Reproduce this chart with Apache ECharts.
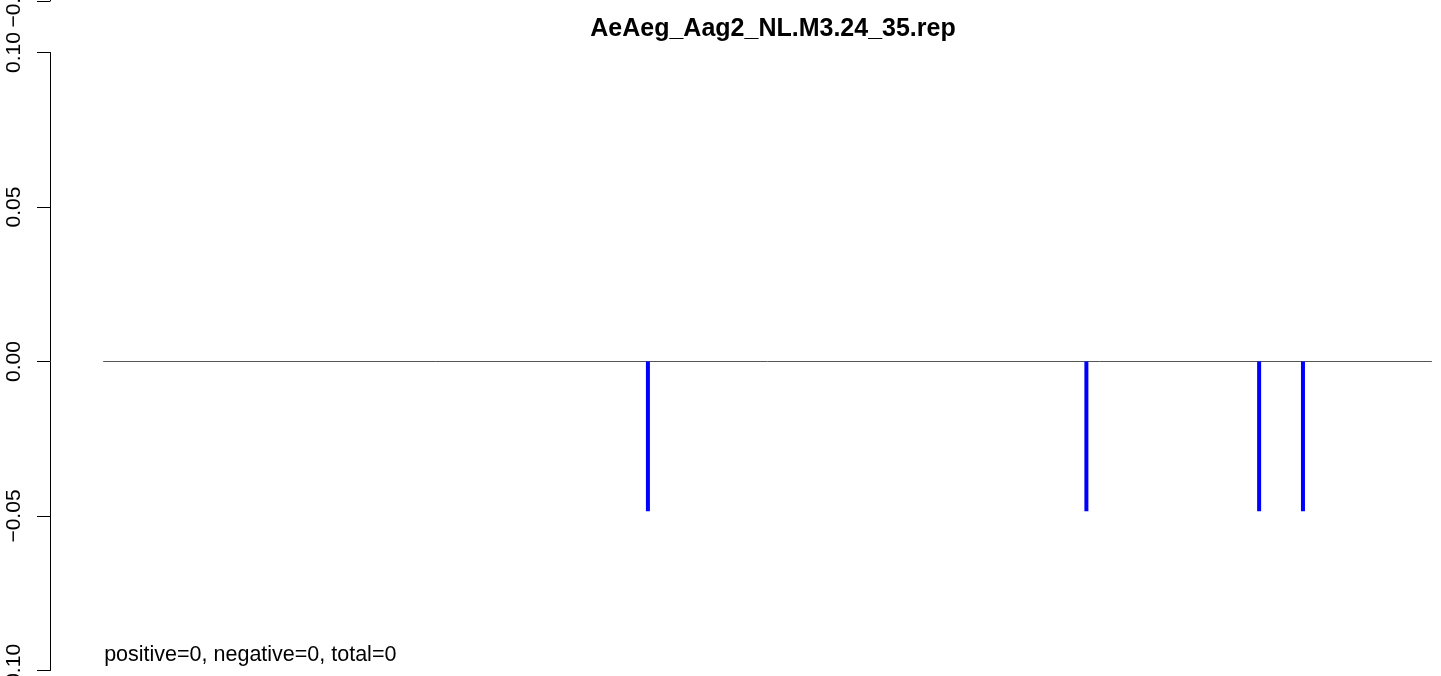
<!DOCTYPE html>
<html><head><meta charset="utf-8">
<script src="https://cdn.jsdelivr.net/npm/echarts@6/dist/echarts.min.js"></script>
<style>html,body{margin:0;padding:0;background:#fff;overflow:hidden}#c{width:1441px;height:676px}</style>
</head><body><div id="c"></div>
<script>
const chartTitle = 'AeAeg_Aag2_NL.M3.24_35.rep';
const positions = [41, 74, 87, 90.3];
const values = [-0.0485, -0.0485, -0.0485, -0.0485];
const baselineRange = [0, 100];
const yMin = -0.10, yMax = 0.10, yStep = 0.05;
const summaryText = 'positive=0, negative=0, total=0';
const summaryPos = [0, -0.0951];

const font = 'Liberation Sans, Arial, Helvetica, sans-serif';
const fmt = v => (v < -1e-9 ? '\u2212' : '') + Math.abs(v).toFixed(2);
const xPad = (baselineRange[1] - baselineRange[0]) * 0.04;

const yAxisStyle = {
  type: 'value', min: yMin, max: yMax, interval: yStep,
  axisLine: { show: true, onZero: false, lineStyle: { color: '#000', width: 1 } },
  axisTick: { show: true, length: 13, lineStyle: { color: '#000', width: 1 } },
  splitLine: { show: false },
  axisLabel: { rotate: 90, margin: 25, formatter: fmt, color: '#000', fontSize: 21, fontFamily: font, showMinLabel: true, showMaxLabel: true, hideOverlap: false }
};

const chart = echarts.init(document.getElementById('c'), null, { renderer: 'canvas' });
chart.setOption({
  animation: false,
  backgroundColor: '#fff',
  title: {
    text: chartTitle, left: 768, top: 12, textAlign: 'center',
    textStyle: { fontFamily: font, fontWeight: 'bold', fontSize: 25, color: '#000' }
  },
  grid: [
    { left: 50, top: 52.5, width: 1435, height: 618, containLabel: false, outerBoundsMode: 'none' },
    { left: 50, top: -617, width: 1435, height: 618, containLabel: false, outerBoundsMode: 'none' }
  ],
  xAxis: [
    { gridIndex: 0, type: 'value', min: baselineRange[0] - xPad, max: baselineRange[1] + xPad, show: false },
    { gridIndex: 1, type: 'value', min: baselineRange[0] - xPad, max: baselineRange[1] + xPad, show: false }
  ],
  yAxis: [
    Object.assign({ gridIndex: 0 }, yAxisStyle),
    Object.assign({ gridIndex: 1 }, yAxisStyle)
  ],
  series: [
    {
      type: 'line', xAxisIndex: 0, yAxisIndex: 0, symbol: 'none', silent: true,
      data: [[baselineRange[0], 0], [baselineRange[1], 0]],
      lineStyle: { color: '#555', width: 1 }, z: 1
    },
    {
      type: 'bar', xAxisIndex: 0, yAxisIndex: 0, barWidth: 4, silent: true,
      data: positions.map((p, i) => [p, values[i]]),
      itemStyle: { color: '#0000ff' }, z: 2
    },
    {
      type: 'scatter', xAxisIndex: 0, yAxisIndex: 0, symbolSize: 0, silent: true,
      data: [summaryPos],
      itemStyle: { opacity: 1 },
      label: { show: true, position: 'right', distance: 1, formatter: summaryText, color: '#000', opacity: 1, fontSize: 21.5, fontFamily: font, align: 'left', verticalAlign: 'middle' }
    }
  ]
});
</script></body></html>
